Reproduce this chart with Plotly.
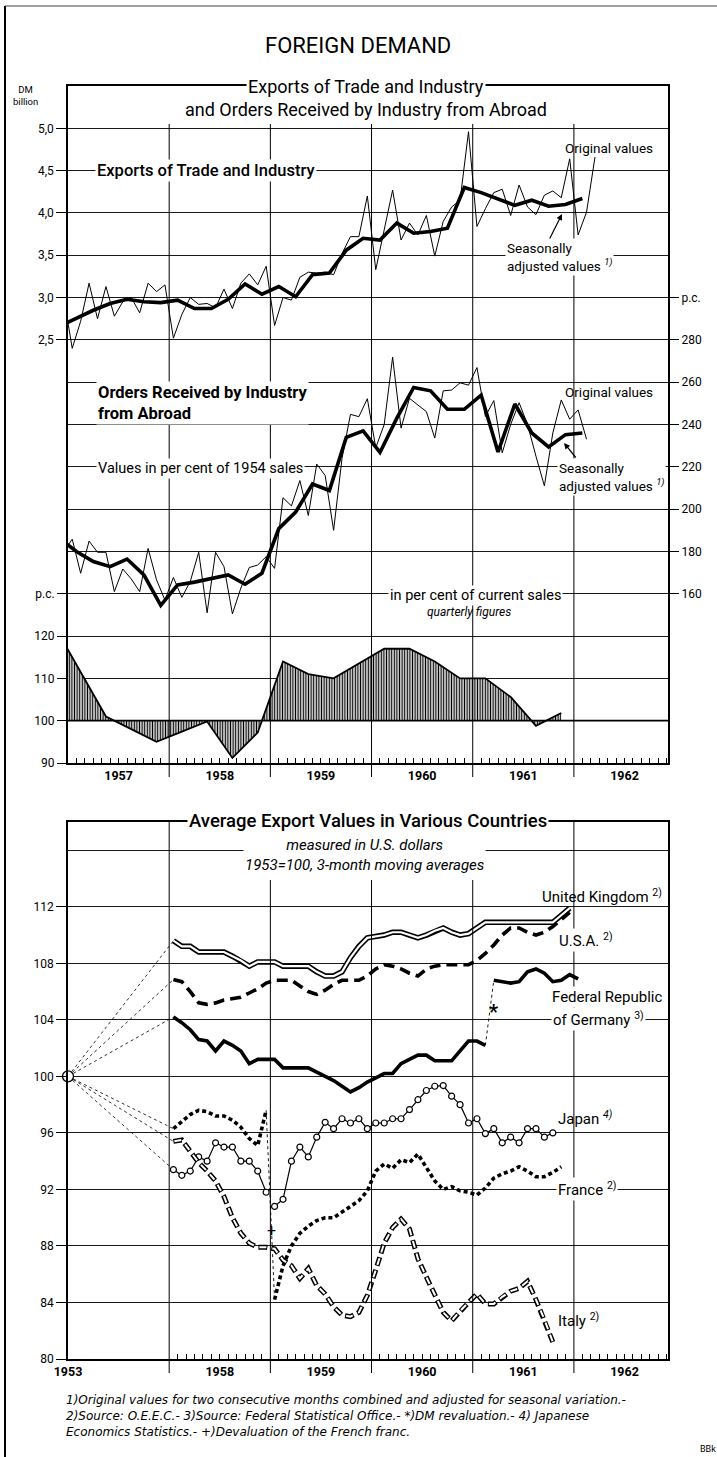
import plotly.graph_objects as go

W, H = 717, 1457
FONT = "Roboto, DejaVu Sans, sans-serif"
NOTE_FONT = "DejaVu Sans, sans-serif"

# ======================= DATA =======================
# --- top panel: exports of trade and industry, DM billion ---
# monthly original values, Dec 1956 .. Mar 1962
exports_original = [
    3.00,
    2.40, 2.72, 3.17, 2.75, 3.13, 2.78, 2.95, 3.00, 2.82, 3.17, 3.07, 3.15,
    2.52, 2.80, 3.00, 2.92, 2.93, 2.88, 3.10, 2.87, 3.17, 3.28, 3.15, 3.37,
    2.67, 3.00, 2.97, 3.24, 3.30, 3.29, 3.30, 3.27, 3.52, 3.72, 3.72, 4.20,
    3.33, 3.80, 4.27, 3.68, 3.88, 3.74, 3.97, 3.49, 3.90, 4.07, 4.15, 4.96,
    3.84, 4.05, 4.24, 4.28, 3.97, 4.33, 4.07, 3.98, 4.21, 4.26, 4.18, 4.64,
    3.74, 4.01, 4.66,
]
# seasonally adjusted, two-month periods Nov/Dec 1956 .. Jan/Feb 1962
exports_adjusted = [
    2.66, 2.76, 2.85, 2.93, 2.98, 2.95, 2.94, 2.97, 2.87, 2.87, 2.98, 3.16,
    3.04, 3.13, 3.01, 3.27, 3.29, 3.56, 3.70, 3.68, 3.88, 3.76, 3.78, 3.82,
    4.30, 4.24, 4.16, 4.09, 4.15, 4.08, 4.10, 4.17,
]
# --- orders received by industry from abroad, per cent of 1954 sales ---
orders_original = [
    180.0,
    185.8, 169.7, 184.9, 179.6, 179.6, 161.0, 171.7, 167.0, 161.0, 181.4, 166.6, 157.0,
    167.7, 158.3, 165.8, 179.6, 151.0, 179.6, 172.8, 150.5, 162.7, 172.4, 173.6, 177.5,
    172.0, 205.4, 201.5, 213.5, 197.0, 221.3, 215.9, 190.0, 224.0, 244.8, 243.7, 252.2,
    229.0, 240.0, 271.8, 238.3, 252.4, 249.2, 246.1, 233.6, 255.9, 256.3, 259.7, 258.6,
    266.9, 243.8, 251.3, 226.6, 240.0, 250.3, 240.0, 225.0, 211.0, 236.0, 251.6, 242.5,
    246.9, 233.0,
]
orders_adjusted = [
    186.0, 180.0, 175.2, 172.8, 176.4, 168.9, 154.5, 164.2, 165.5, 167.0, 168.9, 164.5,
    169.7, 190.8, 198.6, 211.9, 208.8, 233.9, 237.0, 226.8, 243.0, 257.5, 255.9, 247.2,
    247.2, 253.9, 227.0, 249.7, 236.0, 229.4, 235.2, 236.0,
]
# --- orders in per cent of current sales, quarterly Q4 1956 .. Q4 1961 ---
orders_pc_current = [
    122.0, 111.5, 101.0, 98.0, 95.0, 97.4, 99.8, 91.2, 97.2, 114.0, 111.0,
    110.0, 113.6, 117.0, 117.0, 114.0, 110.0, 110.0, 105.6, 98.8, 101.8,
]

# --- bottom panel: average export values, 1953 = 100, monthly from Jan 1958 ---
base_1953 = 100
united_kingdom = [
    109.6, 109.2, 109.2, 108.8, 108.8, 108.8, 108.8, 108.5, 108.2, 107.8, 108.1, 108.1,
    108.1, 107.8, 107.8, 107.8, 107.8, 107.4, 107.1, 107.1, 107.4, 108.4, 109.2, 109.8,
    109.9, 110.0, 110.2, 110.2, 110.0, 109.8, 110.0, 110.3, 110.5, 110.2, 110.0, 110.1,
    110.5, 110.9, 110.9, 110.9, 110.9, 110.9, 110.9, 110.9, 110.9, 110.9, 111.4, 111.9,
]
usa = [
    106.85, 106.7, 106.0, 105.2, 105.1, 105.2, 105.4, 105.5, 105.6, 105.9, 106.2, 106.6,
    106.8, 106.8, 106.8, 106.4, 106.0, 105.8, 106.1, 106.5, 106.8, 106.8, 106.8, 107.1,
    107.6, 107.9, 107.8, 107.6, 107.3, 107.1, 107.6, 107.8, 107.9, 107.9, 107.9, 107.9,
    108.2, 108.7, 109.3, 110.0, 110.5, 110.5, 110.2, 110.0, 110.2, 110.6, 111.1, 111.6,
]
germany = [
    104.2, 103.8, 103.3, 102.6, 102.5, 101.8, 102.5, 102.2, 101.8, 100.9, 101.2, 101.2,
    101.2, 100.6, 100.6, 100.6, 100.6, 100.3, 100.0, 99.7, 99.3, 98.9, 99.2, 99.6,
    99.9, 100.2, 100.2, 100.9, 101.2, 101.5, 101.5, 101.1, 101.1, 101.1, 101.8, 102.5,
    102.5, 102.2, 106.8, 106.7, 106.6, 106.7, 107.4, 107.6, 107.3, 106.7, 106.8, 107.2,
    106.9,
]
germany_revaluation_index = 38   # Mar 1961
japan = [
    93.4, 93.0, 93.3, 94.3, 94.0, 95.3, 95.0, 95.0, 94.0, 94.0, 93.3, 91.8,
    90.8, 91.3, 94.0, 95.0, 94.3, 95.7, 96.75, 96.3, 97.0, 96.7, 97.0, 96.3,
    96.7, 96.7, 97.0, 97.0, 97.65, 98.35, 99.0, 99.3, 99.35, 98.6, 98.0, 96.7,
    97.0, 95.95, 96.3, 95.3, 95.7, 95.3, 96.3, 96.3, 95.7, 96.0,
]
france = [
    96.3, 96.8, 97.3, 97.6, 97.5, 97.2, 97.2, 96.9, 96.4, 95.6, 95.1, 97.6,
    84.2, 86.6, 88.0, 88.9, 89.4, 89.8, 90.0, 90.0, 90.4, 90.8, 91.2, 91.9,
    93.3, 93.8, 93.5, 94.1, 93.9, 94.5, 93.6, 92.6, 92.0, 92.2, 91.9, 91.8,
    91.6, 92.1, 92.8, 93.1, 93.3, 93.6, 93.3, 92.9, 92.9, 93.2, 93.6,
]
france_devaluation_index = 12    # Jan 1959
italy = [
    95.4, 95.5, 94.7, 93.9, 93.3, 92.6, 91.5, 90.0, 88.9, 88.2, 87.9, 87.9,
    87.8, 87.0, 86.6, 85.7, 86.4, 85.2, 84.6, 83.7, 83.1, 83.0, 83.3, 84.5,
    86.3, 88.2, 89.3, 89.9, 89.2, 87.1, 85.8, 84.5, 83.3, 82.7, 83.4, 84.0,
    84.6, 83.9, 83.9, 84.4, 84.8, 85.0, 85.5, 84.2, 82.8, 81.2,
]

# axis labels
top_years = ["1957", "1958", "1959", "1960", "1961", "1962"]
bottom_years = ["1953", "1958", "1959", "1960", "1961", "1962"]
exports_ticks = [2.5, 3.0, 3.5, 4.0, 4.5, 5.0]
exports_ticktext = ["2,5", "3,0", "3,5", "4,0", "4,5", "5,0"]
orders_ticks = [160, 180, 200, 220, 240, 260, 280, 300]
orders_ticktext = ["160", "180", "200", "220", "240", "260", "280", "p.c."]
current_ticks = [90, 100, 110, 120, 130]
current_ticktext = ["90", "100", "110", "120", "p.c."]
avg_ticks = [80, 84, 88, 92, 96, 100, 104, 108, 112]

# ======================= X POSITIONS (time -> axis) =======================
def monthly_x(start_year, start_month, n):
    return [start_year + (start_month - 1 + i + 0.5) / 12 for i in range(n)]

exp_x = monthly_x(1956, 12, len(exports_original))
ord_x = monthly_x(1956, 12, len(orders_original))
sa_x = [1956 + 11 / 12 + 2 * i / 12 for i in range(len(exports_adjusted))]
sa2_x = [1956 + 11 / 12 + 2 * i / 12 for i in range(len(orders_adjusted))]
q_x = [1956.875 + 0.25 * i for i in range(len(orders_pc_current))]
POS_1953 = 1957.0  # 1953 base value is drawn at the left edge of the broken time axis

XR = [1957, 1962.93]


def px(x):
    return x / W


def py(y):
    return 1 - y / H


fig = go.Figure()

# ---------------- top panel ----------------
fig.add_trace(go.Scatter(x=exp_x, y=exports_original, mode="lines",
                         line=dict(color="black", width=1), xaxis="x", yaxis="y"))
fig.add_trace(go.Scatter(x=sa_x, y=exports_adjusted, mode="lines",
                         line=dict(color="black", width=3.6), xaxis="x", yaxis="y"))
fig.add_trace(go.Scatter(x=ord_x, y=orders_original, mode="lines",
                         line=dict(color="black", width=1), xaxis="x", yaxis="y2"))
fig.add_trace(go.Scatter(x=sa2_x, y=orders_adjusted, mode="lines",
                         line=dict(color="black", width=3.6), xaxis="x", yaxis="y2"))
fig.add_trace(go.Scatter(x=q_x, y=[100] * len(q_x), mode="lines",
                         line=dict(color="black", width=0), xaxis="x", yaxis="y3"))
fig.add_trace(go.Scatter(x=q_x, y=orders_pc_current, mode="lines", fill="tonexty",
                         fillcolor="rgba(0,0,0,0)",
                         fillpattern=dict(shape="|", fgcolor="black", bgcolor="white",
                                          size=2.6, solidity=0.5),
                         line=dict(color="black", width=1.8), xaxis="x", yaxis="y3"))

# ---------------- bottom panel ----------------
def mx(n):
    return monthly_x(1958, 1, n)


series_list = [united_kingdom, usa, germany, japan, france, italy]
for s in series_list:
    fig.add_trace(go.Scatter(x=[POS_1953, mx(1)[0]], y=[base_1953, s[0]], mode="lines",
                             line=dict(color="black", width=0.8, dash="3px,3px"),
                             xaxis="x2", yaxis="y4"))

# United Kingdom: double line
ukx = mx(len(united_kingdom))
fig.add_trace(go.Scatter(x=ukx, y=united_kingdom, mode="lines",
                         line=dict(color="black", width=5.5), xaxis="x2", yaxis="y4"))
fig.add_trace(go.Scatter(x=ukx, y=united_kingdom, mode="lines",
                         line=dict(color="white", width=2.2), xaxis="x2", yaxis="y4"))
# USA: long dashes
fig.add_trace(go.Scatter(x=mx(len(usa)), y=usa, mode="lines",
                         line=dict(color="black", width=3.6, dash="11px,6px"),
                         xaxis="x2", yaxis="y4"))
# Germany: solid thick, revaluation break
gx = mx(len(germany))
gi = germany_revaluation_index
fig.add_trace(go.Scatter(x=gx[:gi], y=germany[:gi], mode="lines",
                         line=dict(color="black", width=3.6), xaxis="x2", yaxis="y4"))
fig.add_trace(go.Scatter(x=gx[gi:], y=germany[gi:], mode="lines",
                         line=dict(color="black", width=3.6), xaxis="x2", yaxis="y4"))
fig.add_trace(go.Scatter(x=gx[gi - 1:gi + 1], y=germany[gi - 1:gi + 1], mode="lines",
                         line=dict(color="black", width=0.9, dash="3px,3px"),
                         xaxis="x2", yaxis="y4"))
# Japan: thin line with open circles, break at 1959
jx = mx(len(japan))
fi = france_devaluation_index
for sl in (slice(0, fi), slice(fi, None)):
    fig.add_trace(go.Scatter(x=jx[sl], y=japan[sl], mode="lines+markers",
                             line=dict(color="black", width=1.2),
                             marker=dict(symbol="circle", size=6, color="white",
                                         line=dict(color="black", width=1.2)),
                             xaxis="x2", yaxis="y4"))
# France: bold short dashes, devaluation break
fx = mx(len(france))
fig.add_trace(go.Scatter(x=fx[:fi], y=france[:fi], mode="lines",
                         line=dict(color="black", width=3.6, dash="4px,3px"),
                         xaxis="x2", yaxis="y4"))
fig.add_trace(go.Scatter(x=fx[fi:], y=france[fi:], mode="lines",
                         line=dict(color="black", width=3.6, dash="4px,3px"),
                         xaxis="x2", yaxis="y4"))
fig.add_trace(go.Scatter(x=fx[fi - 1:fi + 1], y=france[fi - 1:fi + 1], mode="lines",
                         line=dict(color="black", width=0.9, dash="3px,3px"),
                         xaxis="x2", yaxis="y4"))
# Italy: outlined dashes
ix = mx(len(italy))
fig.add_trace(go.Scatter(x=ix, y=italy, mode="lines",
                         line=dict(color="black", width=5, dash="9px,4px"),
                         xaxis="x2", yaxis="y4"))
fig.add_trace(go.Scatter(x=ix, y=italy, mode="lines",
                         line=dict(color="white", width=2, dash="0px,1px,7px,5px"),
                         xaxis="x2", yaxis="y4"))
# 1953 base point
fig.add_trace(go.Scatter(x=[POS_1953], y=[base_1953], mode="markers",
                         marker=dict(symbol="circle", size=11, color="white",
                                     line=dict(color="black", width=1.3)),
                         cliponaxis=False, xaxis="x2", yaxis="y4"))

# ======================= AXES =======================
XD = [px(68), px(668)]
TOP = [py(763), py(86)]
BOT = [py(1359), py(822)]
tickfont = dict(family=FONT, size=12, color="black")
GRID = "#1a1a1a"

top_minor = [1957 + m / 12 for m in range(1, 72) if m % 12]
bot_minor = [1958 + m / 12 for m in range(1, 60) if m % 12]

fig.update_layout(
    template="none",
    width=W, height=H, autosize=False, showlegend=False,
    margin=dict(l=0, r=0, t=0, b=0, pad=0),
    paper_bgcolor="white", plot_bgcolor="white",
    xaxis=dict(domain=XD, range=XR, anchor="y", tickmode="array", automargin=False,
               tickvals=[int(y) + 0.5 for y in top_years], ticktext=top_years,
               ticks="", showgrid=False, zeroline=False,
               showline=True, linecolor="black", linewidth=2, mirror=True,
               tickfont=dict(family=FONT, size=12.5, color="black", weight=700),
               minor=dict(tickmode="array", tickvals=top_minor, ticks="inside",
                          ticklen=5, tickcolor="black", tickwidth=1, showgrid=False)),
    yaxis=dict(domain=TOP, range=[-2.5, 5.5], anchor="x", tickmode="array",
               automargin=False,
               tickvals=exports_ticks, ticktext=exports_ticktext,
               ticks="outside", ticklen=10, tickcolor="black", tickfont=tickfont,
               showgrid=True, gridcolor=GRID, gridwidth=1, zeroline=False,
               showline=True, linecolor="black", linewidth=1.5, mirror=True,
               minor=dict(tickmode="array",
                          tickvals=[-2.0 + 0.5 * i for i in range(9)],
                          ticks="", showgrid=True, gridcolor=GRID, gridwidth=1)),
    yaxis2=dict(range=[80, 400], overlaying="y", side="right", anchor="x",
                automargin=False,
                tickmode="array", tickvals=orders_ticks, ticktext=orders_ticktext,
                ticks="outside", ticklen=10, tickcolor="black", tickfont=tickfont,
                showgrid=False, zeroline=False, showline=False),
    yaxis3=dict(range=[90, 250], overlaying="y", side="left", anchor="x",
                automargin=False,
                tickmode="array", tickvals=current_ticks, ticktext=current_ticktext,
                ticks="outside", ticklen=10, tickcolor="black", tickfont=tickfont,
                showgrid=False, zeroline=False, showline=False),
    xaxis2=dict(domain=XD, range=XR, anchor="y4", tickmode="array", automargin=False,
                tickvals=[POS_1953] + [int(y) + 0.5 for y in bottom_years[1:]],
                ticktext=bottom_years, ticks="", showgrid=False, zeroline=False,
                showline=True, linecolor="black", linewidth=2, mirror=True,
                tickfont=dict(family=FONT, size=12.5, color="black", weight=700),
                minor=dict(tickmode="array", tickvals=bot_minor, ticks="inside",
                           ticklen=5, tickcolor="black", tickwidth=1, showgrid=False)),
    yaxis4=dict(domain=BOT, range=[80, 118], anchor="x2", tickmode="array",
                automargin=False,
                tickvals=avg_ticks, ticktext=[str(v) for v in avg_ticks],
                ticks="outside", ticklen=10, tickcolor="black", tickfont=tickfont,
                showgrid=True, gridcolor=GRID, gridwidth=1, zeroline=False,
                showline=True, linecolor="black", linewidth=1.5, mirror=True,
                minor=dict(tickmode="array", tickvals=[116], ticks="",
                           showgrid=True, gridcolor=GRID, gridwidth=1)),
    yaxis5=dict(range=[80, 118], overlaying="y4", side="right", anchor="x2",
                automargin=False,
                tickmode="array", tickvals=avg_ticks,
                ticktext=[str(v) for v in avg_ticks],
                ticks="outside", ticklen=10, tickcolor="black", tickfont=tickfont,
                showgrid=False, zeroline=False, showline=False),
)

# ======================= SHAPES =======================
shapes = []
for yr in range(1958, 1963):
    shapes.append(dict(type="line", xref="x", yref="paper", x0=yr, x1=yr,
                       y0=py(777), y1=py(124), line=dict(color="black", width=1)))
    top = 822 if yr in (1958, 1962) else 880
    shapes.append(dict(type="line", xref="x2", yref="paper", x0=yr, x1=yr,
                       y0=py(1373), y1=py(top), line=dict(color="black", width=1)))
# heavier 100 line of the quarterly panel
shapes.append(dict(type="line", xref="paper", yref="y3", x0=XD[0], x1=XD[1],
                   y0=100, y1=100, line=dict(color="black", width=1.8)))
# page border
shapes.append(dict(type="line", xref="paper", yref="paper", x0=px(5), x1=px(5),
                   y0=0, y1=py(6), line=dict(color="black", width=2)))
shapes.append(dict(type="line", xref="paper", yref="paper", x0=px(5), x1=1,
                   y0=py(6), y1=py(6), line=dict(color="#444", width=1.2)))
fig.update_layout(shapes=shapes)

# ======================= TEXT =======================
def ann(text, x, y, size=12, xanchor="center", yanchor="middle", bg=False,
        weight=400, style="normal", align="left", family=FONT):
    d = dict(text=text, x=px(x), y=py(y), xref="paper", yref="paper",
             showarrow=False, xanchor=xanchor, yanchor=yanchor, align=align,
             font=dict(family=family, size=size, color="black", weight=weight,
                       style=style))
    if bg:
        d.update(bgcolor="white", borderpad=1)
    return d


anns = [
    ann("FOREIGN DEMAND", 358, 45, size=22),
    ann("Exports of Trade and Industry", 366, 87, size=18, bg=True),
    ann("and Orders Received by Industry from Abroad", 366, 109, size=18),
    ann("DM<br>billion", 26, 95, size=9.5, align="center"),
    ann("Exports of Trade and Industry", 95, 170, size=16.5, xanchor="left", bg=True,
        weight=500),
    ann("Original values", 609, 148, size=13.5),
    ann("Seasonally<br>adjusted values <i><sup>1)</sup></i>", 505, 257, size=13.5,
        xanchor="left", bg=True),
    ann("<b>Orders Received by Industry<br>from Abroad</b>", 96, 403, size=16.5,
        xanchor="left", bg=True),
    ann("Values in per cent of 1954 sales", 96, 469, size=14.5, xanchor="left", bg=True),
    ann("Original values", 609, 392, size=13.5),
    ann("Seasonally<br>adjusted values <i><sup>1)</sup></i>", 557, 477, size=13.5,
        xanchor="left", bg=True),
    ann("in per cent of current sales", 475, 595, size=14.5, bg=True),
    ann("quarterly figures", 469, 612, size=12, style="italic"),
    ann("Average Export Values in Various Countries", 368, 821, size=18.5, bg=True,
        weight=500),
    ann("measured in U.S. dollars<br>1953=100, 3-month moving averages", 364, 855,
        size=15, style="italic", bg=True, align="center"),
    ann("United Kingdom <sup>2)</sup>", 664, 896, size=15, xanchor="right"),
    ann("U.S.A. <sup>2)</sup>", 557, 940, size=15, xanchor="left", bg=True),
    ann("Federal Republic", 550, 997, size=15, xanchor="left", bg=True),
    ann("of Germany <sup>3)</sup>", 551, 1019, size=15, xanchor="left", bg=True),
    ann("Japan <i><sup>4)</sup></i>", 556, 1118, size=15, xanchor="left"),
    ann("France <sup>2)</sup>", 556, 1189, size=15, xanchor="left", bg=True),
    ann("Italy <sup>2)</sup>", 556, 1320, size=15, xanchor="left"),
    ann("<b>*</b>", 493, 1012, size=20),
    ann("+", 271, 1230, size=16),
    ann("1)Original values for two consecutive months combined and adjusted for seasonal variation.-",
        64, 1400, size=12, xanchor="left", style="italic", family=NOTE_FONT),
    ann("2)Source: O.E.E.C.- 3)Source: Federal Statistical Office.- *)DM revaluation.- 4) Japanese",
        64, 1416, size=12, xanchor="left", style="italic", family=NOTE_FONT),
    ann("Economics Statistics.- +)Devaluation of the French franc.",
        64, 1432, size=12, xanchor="left", style="italic", family=NOTE_FONT),
    ann("BBk", 698, 1449, size=9, xanchor="left"),
]
# arrows pointing at the seasonally adjusted lines
anns.append(dict(x=px(562), y=py(214), xref="paper", yref="paper", text="",
                 showarrow=True, arrowhead=2, arrowsize=1, arrowwidth=1.2,
                 arrowcolor="black", ax=-13, ay=26))
anns.append(dict(x=px(564), y=py(443), xref="paper", yref="paper", text="",
                 showarrow=True, arrowhead=2, arrowsize=1, arrowwidth=1.2,
                 arrowcolor="black", ax=13, ay=16))
fig.update_layout(annotations=anns)

fig.write_html("out.html", config={"displayModeBar": False},
               post_script="document.body.style.margin='0px';")
